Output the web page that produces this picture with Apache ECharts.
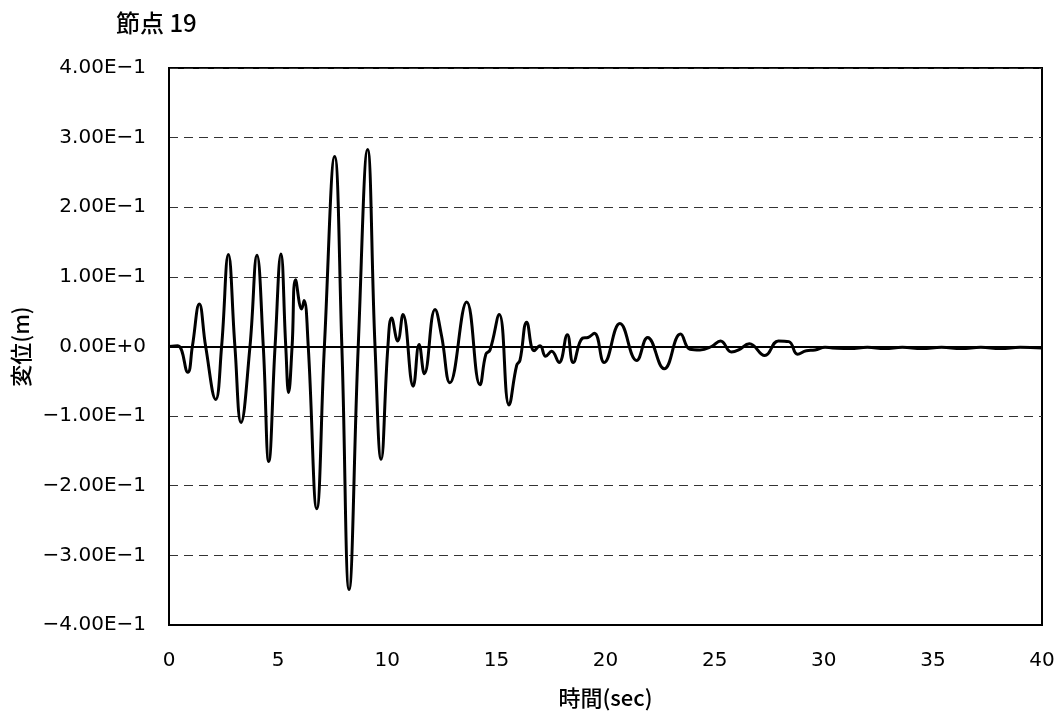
<!DOCTYPE html>
<html>
<head>
<meta charset="utf-8">
<script src="https://cdn.jsdelivr.net/npm/echarts@6/dist/echarts.min.js"></script>
<style>
  html, body { margin: 0; padding: 0; background: #fff; }
  #chart { width: 1063px; height: 714px; }
</style>
</head>
<body>
<div id="chart"></div>
<script>
// Displacement time history of node 19
const titleText = '節点 19';
const xAxisName = '時間(sec)';
const yAxisName = '変位(m)';

// time (sec)
const timeSec = [
  0, 0.4, 0.86, 1.07, 1.39, 1.68, 2.14, 2.41, 2.72, 3.02, 3.30, 3.71, 4.03, 4.32,
  4.57, 4.86, 5.13, 5.35, 5.48, 5.64, 5.80, 6.08, 6.19, 6.38, 6.77, 7.12, 7.59,
  7.92, 8.25, 8.67, 9.10, 9.44, 9.72, 10.03, 10.20, 10.48, 10.72, 11.19, 11.46,
  11.70, 12.19, 12.49, 12.87, 13.64, 14.25, 14.52, 14.71, 15.13, 15.58, 15.93,
  16.08, 16.39, 16.73, 17.0, 17.26, 17.53, 17.87, 18.25, 18.52, 18.95, 19.2,
  19.49, 19.94, 20.66, 21.43, 21.93, 22.69, 23.44, 23.87, 24.33, 24.86, 25.27,
  25.77, 26.1, 26.59, 27.3, 27.92, 28.4, 28.8, 29.2, 29.6, 30.06, 30.4, 31.2,
  32.0, 32.8, 33.6, 34.5, 35.4, 36.3, 37.2, 38.1, 39.0, 40.0
];

// displacement (m)
const dispM = [
  0, 0.001, -0.037, 0, 0.061, 0, -0.076, 0, 0.132, 0, -0.109, 0, 0.131, 0,
  -0.165, 0, 0.133, 0, -0.066, 0, 0.096, 0.054, 0.066, 0, -0.233, 0, 0.273,
  0, -0.349, 0, 0.283, 0, -0.162, 0, 0.041, 0.008, 0.046, -0.057, 0.003,
  -0.039, 0.053, 0.015, -0.052, 0.064, -0.055, -0.011, -0.005, 0.046, -0.084, -0.027,
  -0.020, 0.035, -0.006, 0.001, -0.014, -0.007, -0.023, 0.017, -0.023, 0.012, 0.013,
  0.019, -0.023, 0.033, -0.020, 0.013, -0.032, 0.018, -0.004, -0.005, 0, 0.008,
  -0.008, -0.005, 0.004, -0.013, 0.008, 0.007, -0.011, -0.006, -0.005, -0.001, -0.002, -0.003,
  -0.001, -0.003, -0.001, -0.003, -0.001, -0.003, -0.001, -0.003, -0.001, -0.002
];

const xTickLabels = ['0', '5', '10', '15', '20', '25', '30', '35', '40'];
const yTickLabels = [
  '−4.00E−1', '−3.00E−1', '−2.00E−1', '−1.00E−1', '0.00E+0',
  '1.00E−1', '2.00E−1', '3.00E−1', '4.00E−1'
];

const series = timeSec.map((t, i) => [t, dispM[i]]);

const numFont = 'DejaVu Sans';
const cjkFont = '"Noto Sans CJK JP", sans-serif';

const chart = echarts.init(document.getElementById('chart'), null, { renderer: 'canvas' });
chart.setOption({
  animation: false,
  backgroundColor: '#fff',
  title: {
    text: titleText,
    left: 111,
    top: 6,
    textStyle: { fontFamily: cjkFont, fontSize: 24, fontWeight: 500, color: '#000' }
  },
  grid: {
    left: 169, right: 21, top: 68, bottom: 87,
    show: true, borderColor: '#000', borderWidth: 2, backgroundColor: 'transparent'
  },
  xAxis: {
    type: 'value',
    min: 0, max: 40, interval: 5,
    name: xAxisName,
    nameLocation: 'middle',
    nameGap: 62,
    nameTextStyle: { fontFamily: cjkFont, fontSize: 22, fontWeight: 500, color: '#000' },
    axisLine: { show: true, onZero: false, lineStyle: { color: '#000', width: 2 } },
    axisTick: { show: false },
    splitLine: { show: false },
    axisLabel: {
      margin: 26,
      fontFamily: numFont, fontSize: 20, color: '#000',
      formatter: (v, i) => xTickLabels[i]
    }
  },
  yAxis: {
    type: 'value',
    min: -0.4, max: 0.4, interval: 0.1,
    name: yAxisName,
    nameLocation: 'middle',
    nameRotate: 90,
    nameGap: 136,
    nameTextStyle: { fontFamily: cjkFont, fontSize: 22, fontWeight: 500, color: '#000' },
    axisLine: { show: true, lineStyle: { color: '#000', width: 2 } },
    axisTick: { show: false },
    splitLine: { show: true, lineStyle: { color: '#333', width: 1, type: [9, 6] } },
    axisLabel: {
      margin: 23,
      fontFamily: numFont, fontSize: 20, color: '#000',
      formatter: (v, i) => yTickLabels[i]
    }
  },
  series: [{
    type: 'line',
    data: series,
    smooth: 0.45,
    symbol: 'none',
    lineStyle: { color: '#000', width: 3 },
    markLine: {
      silent: true,
      symbol: 'none',
      label: { show: false },
      lineStyle: { color: '#000', width: 2, type: 'solid' },
      data: [{ yAxis: 0 }]
    },
    z: 3
  }]
});
</script>
</body>
</html>
